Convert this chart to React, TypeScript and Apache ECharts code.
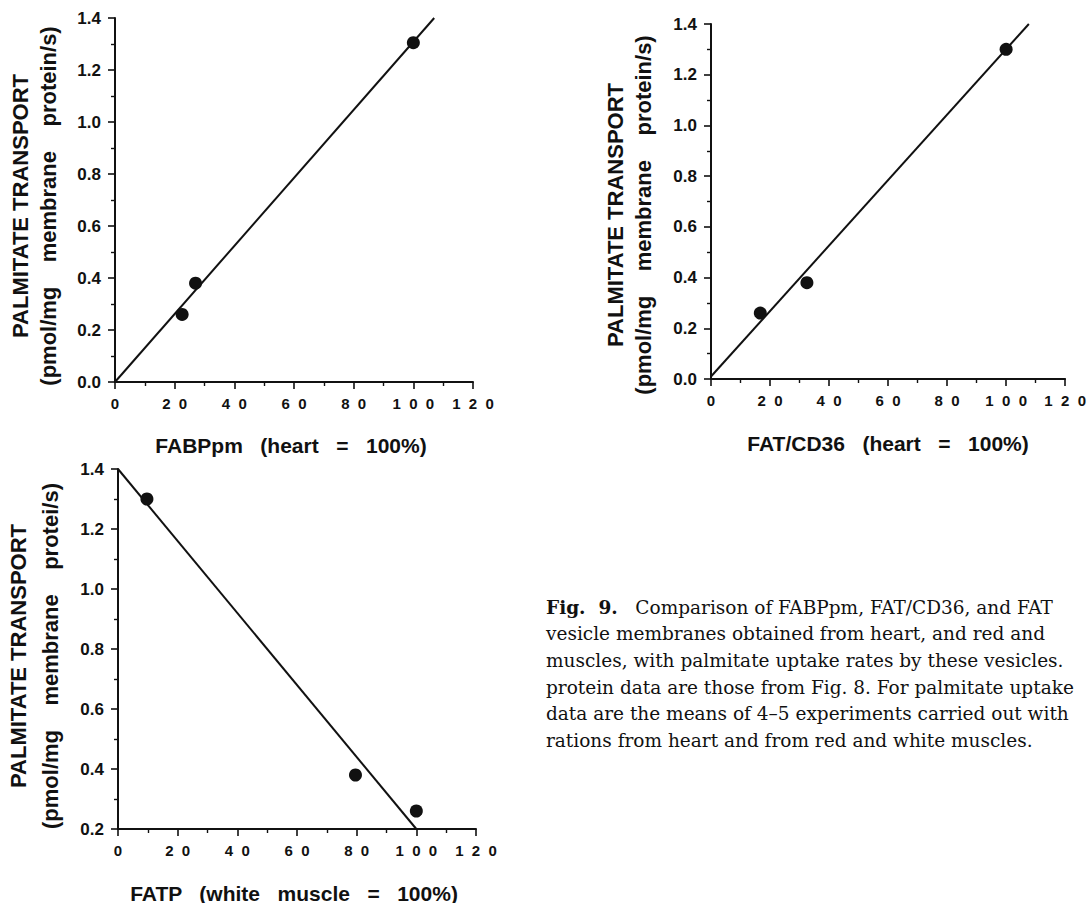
import React, { useEffect, useRef } from "react";
import * as echarts from "echarts";

// ---- data ----
const fabpPoints: number[][] = [[22.5, 0.26], [27, 0.38], [100, 1.305]];
const fabpFit: number[][] = [[0, 0], [107, 1.4]];
const cd36Points: number[][] = [[16.7, 0.26], [32.5, 0.38], [100, 1.3]];
const cd36Fit: number[][] = [[0, 0.01], [107.7, 1.4]];
const fatpPoints: number[][] = [[9.7, 1.3], [79.6, 0.38], [100, 0.26]];
const fatpFit: number[][] = [[0, 1.4], [100, 0.2]];

const xMin = 0, xMax = 120, xStep = 20;
const yMaxAll = 1.4, yStep = 0.2;
const yMins = [0, 0, 0.2];

const yTitle = "PALMITATE TRANSPORT";
const ySubTitles = [
  "(pmol/mg    membrane    protein/s)",
  "(pmol/mg    membrane    protein/s)",
  "(pmol/mg    membrane    protei/s)",
];
const xTitles = [
  "FABPpm   (heart   =   100%)",
  "FAT/CD36   (heart   =   100%)",
  "FATP   (white   muscle   =   100%)",
];
const captionFirst = "Comparison of FABPpm, FAT/CD36, and FAT";
const captionLines = [
  "vesicle membranes obtained from heart, and red and",
  "muscles, with palmitate uptake rates by these vesicles.",
  "protein data are those from Fig. 8. For palmitate uptake",
  "data are the means of 4–5 experiments carried out with",
  "rations from heart and from red and white muscles.",
];

const SANS = "'Liberation Sans', Arial, Helvetica, sans-serif";
const SERIF = "'DejaVu Serif', 'Liberation Serif', serif";

const grids = [
  { left: 115, top: 18, width: 358, height: 364 },
  { left: 711, top: 24, width: 359, height: 355 },
  { left: 118, top: 469, width: 358, height: 360 },
];
const yTitlePos = [
  { x1: 20, x2: 48, y: 206 },
  { x1: 615, x2: 643, y: 215 },
  { x1: 18, x2: 50, y: 656 },
];
const xTitlePos = [
  { x: 291, y: 445 },
  { x: 888, y: 443 },
  { x: 294, y: 893 },
];

export default function App() {
  const ref = useRef<HTMLDivElement>(null);
  useEffect(() => {
    document.body.style.margin = "0";
    const chart = echarts.init(ref.current!, null, { renderer: "svg" });
    const axisLine = { show: true, lineStyle: { color: "#111", width: 2 } };
    const axisTick = { show: true, length: 7, lineStyle: { color: "#111", width: 1.6 } };
    const minorTick = { show: true, splitNumber: 2, length: 4, lineStyle: { color: "#111", width: 1.4 } };

    const xAxes = grids.map((_, i) => ({
      type: "value",
      gridIndex: i,
      min: xMin,
      max: xMax,
      interval: xStep,
      axisLine,
      axisTick,
      minorTick,
      splitLine: { show: false },
      axisLabel: {
        margin: 14,
        color: "#111",
        fontFamily: SANS,
        fontWeight: "bold",
        fontSize: 15,
        formatter: (v: number) => String(v).split("").join("  "),
      },
    }));
    const yAxes = grids.map((_, i) => ({
      type: "value",
      gridIndex: i,
      min: yMins[i],
      max: yMaxAll,
      interval: yStep,
      axisLine,
      axisTick,
      minorTick,
      splitLine: { show: false },
      axisLabel: {
        margin: 14,
        color: "#111",
        fontFamily: SANS,
        fontWeight: "bold",
        fontSize: 17,
        formatter: (v: number) => v.toFixed(1),
      },
    }));

    const pointSets = [fabpPoints, cd36Points, fatpPoints];
    const fitSets = [fabpFit, cd36Fit, fatpFit];
    const series: any[] = [];
    for (let i = 0; i < 3; i++) {
      series.push({
        type: "line",
        xAxisIndex: i,
        yAxisIndex: i,
        data: fitSets[i],
        symbol: "none",
        lineStyle: { color: "#111", width: 2 },
        z: 2,
      });
      series.push({
        type: "scatter",
        xAxisIndex: i,
        yAxisIndex: i,
        data: pointSets[i],
        symbol: "circle",
        symbolSize: 13,
        itemStyle: { color: "#111", opacity: 1 },
        z: 3,
      });
    }

    const graphics: any[] = [];
    for (let i = 0; i < 3; i++) {
      const p = yTitlePos[i];
      graphics.push({
        type: "text",
        x: p.x1,
        y: p.y,
        rotation: Math.PI / 2,
        style: {
          text: yTitle,
          font: `bold 22px ${SANS}`,
          fill: "#111",
          align: "center",
          verticalAlign: "middle",
          textAlign: "center",
          textVerticalAlign: "middle",
        },
      });
      graphics.push({
        type: "text",
        x: p.x2,
        y: p.y,
        rotation: Math.PI / 2,
        style: {
          text: ySubTitles[i],
          font: `bold 22px ${SANS}`,
          fill: "#111",
          align: "center",
          verticalAlign: "middle",
          textAlign: "center",
          textVerticalAlign: "middle",
        },
      });
      const q = xTitlePos[i];
      graphics.push({
        type: "text",
        x: q.x,
        y: q.y,
        style: {
          text: xTitles[i],
          font: `bold 21px ${SANS}`,
          fill: "#111",
          align: "center",
          verticalAlign: "middle",
          textAlign: "center",
          textVerticalAlign: "middle",
        },
      });
    }
    const capX = 546, capY = 607, capLH = 26.7;
    graphics.push({
      type: "text",
      x: capX,
      y: capY,
      style: {
        text: "{b|Fig.  9.}   " + captionFirst,
        font: `18.5px ${SERIF}`,
        fill: "#111",
        verticalAlign: "middle",
        textVerticalAlign: "middle",
        rich: { b: { fontWeight: "bold", fontFamily: SERIF, fontSize: 18.5, fill: "#111" } },
      },
    });
    captionLines.forEach((t, k) => {
      graphics.push({
        type: "text",
        x: capX,
        y: capY + capLH * (k + 1),
        style: {
          text: t,
          font: `18.5px ${SERIF}`,
          fill: "#111",
          verticalAlign: "middle",
          textVerticalAlign: "middle",
        },
      });
    });

    chart.setOption({
      animation: false,
      backgroundColor: "#fff",
      grid: grids.map((g) => ({ ...g, containLabel: false })),
      xAxis: xAxes,
      yAxis: yAxes,
      series,
      graphic: graphics,
    });
    return () => chart.dispose();
  }, []);
  return <div ref={ref} style={{ width: 1089, height: 903 }} />;
}
